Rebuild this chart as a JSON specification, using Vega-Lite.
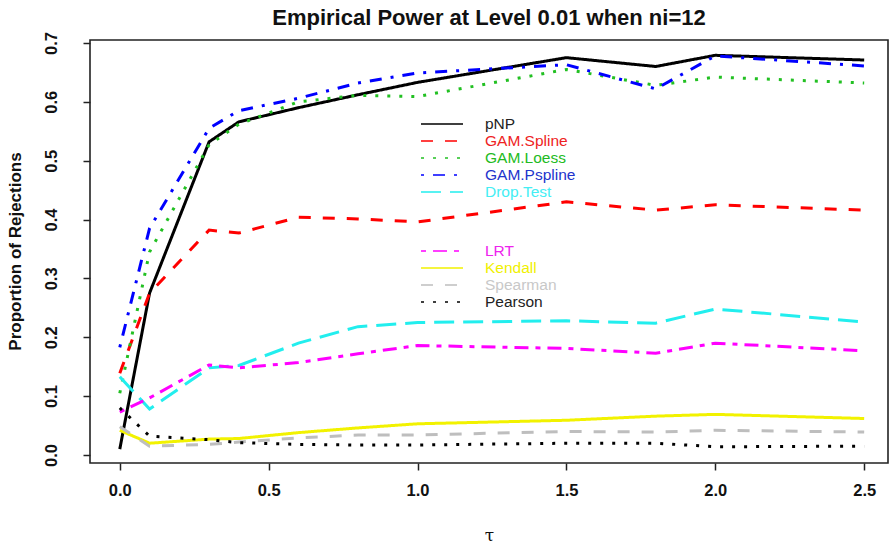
{
  "$schema": "https://vega.github.io/schema/vega-lite/v6.json",
  "autosize": {"type": "none"},
  "padding": {"left": 90, "top": 40, "right": 1, "bottom": 85},
  "width": 798,
  "height": 423,
  "background": "white",
  "title": {"text": "Empirical Power at Level 0.01 when ni=12", "font": "Liberation Sans", "fontSize": 22, "fontWeight": "bold", "color": "#111", "anchor": "middle", "offset": 1},
  "config": {
    "view": {"stroke": "#222", "strokeWidth": 1.6},
    "axis": {"domain": false, "grid": false, "ticks": true, "tickColor": "#222", "tickWidth": 1.5, "tickSize": 7, "labelFont": "Liberation Sans", "labelFontSize": 16.5, "labelFontWeight": "bold", "labelColor": "#111", "titleColor": "#111"}
  },
  "data": {"values": [
    {"t": 0, "v": 0.01, "m": "pNP"}, {"t": 0.1, "v": 0.275, "m": "pNP"}, {"t": 0.3, "v": 0.532, "m": "pNP"}, {"t": 0.4, "v": 0.566, "m": "pNP"}, {"t": 0.6, "v": 0.59, "m": "pNP"}, {"t": 0.8, "v": 0.612, "m": "pNP"}, {"t": 1.0, "v": 0.633, "m": "pNP"}, {"t": 1.5, "v": 0.675, "m": "pNP"}, {"t": 1.8, "v": 0.66, "m": "pNP"}, {"t": 2.0, "v": 0.679, "m": "pNP"}, {"t": 2.5, "v": 0.671, "m": "pNP"},
    {"t": 0, "v": 0.139, "m": "GAM.Spline"}, {"t": 0.1, "v": 0.275, "m": "GAM.Spline"}, {"t": 0.3, "v": 0.382, "m": "GAM.Spline"}, {"t": 0.4, "v": 0.377, "m": "GAM.Spline"}, {"t": 0.6, "v": 0.404, "m": "GAM.Spline"}, {"t": 0.8, "v": 0.401, "m": "GAM.Spline"}, {"t": 1.0, "v": 0.396, "m": "GAM.Spline"}, {"t": 1.5, "v": 0.43, "m": "GAM.Spline"}, {"t": 1.8, "v": 0.416, "m": "GAM.Spline"}, {"t": 2.0, "v": 0.425, "m": "GAM.Spline"}, {"t": 2.5, "v": 0.416, "m": "GAM.Spline"},
    {"t": 0, "v": 0.105, "m": "GAM.Loess"}, {"t": 0.1, "v": 0.345, "m": "GAM.Loess"}, {"t": 0.3, "v": 0.527, "m": "GAM.Loess"}, {"t": 0.4, "v": 0.562, "m": "GAM.Loess"}, {"t": 0.6, "v": 0.6, "m": "GAM.Loess"}, {"t": 0.8, "v": 0.611, "m": "GAM.Loess"}, {"t": 1.0, "v": 0.609, "m": "GAM.Loess"}, {"t": 1.5, "v": 0.655, "m": "GAM.Loess"}, {"t": 1.8, "v": 0.628, "m": "GAM.Loess"}, {"t": 2.0, "v": 0.642, "m": "GAM.Loess"}, {"t": 2.5, "v": 0.632, "m": "GAM.Loess"},
    {"t": 0, "v": 0.183, "m": "GAM.Pspline"}, {"t": 0.1, "v": 0.385, "m": "GAM.Pspline"}, {"t": 0.3, "v": 0.555, "m": "GAM.Pspline"}, {"t": 0.4, "v": 0.585, "m": "GAM.Pspline"}, {"t": 0.6, "v": 0.606, "m": "GAM.Pspline"}, {"t": 0.8, "v": 0.632, "m": "GAM.Pspline"}, {"t": 1.0, "v": 0.649, "m": "GAM.Pspline"}, {"t": 1.5, "v": 0.663, "m": "GAM.Pspline"}, {"t": 1.8, "v": 0.622, "m": "GAM.Pspline"}, {"t": 2.0, "v": 0.678, "m": "GAM.Pspline"}, {"t": 2.5, "v": 0.661, "m": "GAM.Pspline"},
    {"t": 0, "v": 0.133, "m": "Drop.Test"}, {"t": 0.1, "v": 0.078, "m": "Drop.Test"}, {"t": 0.3, "v": 0.148, "m": "Drop.Test"}, {"t": 0.4, "v": 0.152, "m": "Drop.Test"}, {"t": 0.6, "v": 0.19, "m": "Drop.Test"}, {"t": 0.8, "v": 0.218, "m": "Drop.Test"}, {"t": 1.0, "v": 0.225, "m": "Drop.Test"}, {"t": 1.5, "v": 0.228, "m": "Drop.Test"}, {"t": 1.8, "v": 0.224, "m": "Drop.Test"}, {"t": 2.0, "v": 0.248, "m": "Drop.Test"}, {"t": 2.5, "v": 0.226, "m": "Drop.Test"},
    {"t": 0, "v": 0.073, "m": "LRT"}, {"t": 0.1, "v": 0.097, "m": "LRT"}, {"t": 0.3, "v": 0.153, "m": "LRT"}, {"t": 0.4, "v": 0.148, "m": "LRT"}, {"t": 0.6, "v": 0.157, "m": "LRT"}, {"t": 0.8, "v": 0.172, "m": "LRT"}, {"t": 1.0, "v": 0.186, "m": "LRT"}, {"t": 1.5, "v": 0.181, "m": "LRT"}, {"t": 1.8, "v": 0.173, "m": "LRT"}, {"t": 2.0, "v": 0.19, "m": "LRT"}, {"t": 2.5, "v": 0.177, "m": "LRT"},
    {"t": 0, "v": 0.042, "m": "Kendall"}, {"t": 0.1, "v": 0.02, "m": "Kendall"}, {"t": 0.3, "v": 0.027, "m": "Kendall"}, {"t": 0.4, "v": 0.028, "m": "Kendall"}, {"t": 0.6, "v": 0.038, "m": "Kendall"}, {"t": 0.8, "v": 0.046, "m": "Kendall"}, {"t": 1.0, "v": 0.053, "m": "Kendall"}, {"t": 1.5, "v": 0.059, "m": "Kendall"}, {"t": 1.8, "v": 0.066, "m": "Kendall"}, {"t": 2.0, "v": 0.069, "m": "Kendall"}, {"t": 2.5, "v": 0.062, "m": "Kendall"},
    {"t": 0, "v": 0.048, "m": "Spearman"}, {"t": 0.1, "v": 0.015, "m": "Spearman"}, {"t": 0.3, "v": 0.018, "m": "Spearman"}, {"t": 0.4, "v": 0.022, "m": "Spearman"}, {"t": 0.6, "v": 0.029, "m": "Spearman"}, {"t": 0.8, "v": 0.034, "m": "Spearman"}, {"t": 1.0, "v": 0.034, "m": "Spearman"}, {"t": 1.5, "v": 0.04, "m": "Spearman"}, {"t": 1.8, "v": 0.039, "m": "Spearman"}, {"t": 2.0, "v": 0.042, "m": "Spearman"}, {"t": 2.5, "v": 0.039, "m": "Spearman"},
    {"t": 0, "v": 0.08, "m": "Pearson"}, {"t": 0.1, "v": 0.032, "m": "Pearson"}, {"t": 0.3, "v": 0.026, "m": "Pearson"}, {"t": 0.4, "v": 0.021, "m": "Pearson"}, {"t": 0.6, "v": 0.018, "m": "Pearson"}, {"t": 0.8, "v": 0.017, "m": "Pearson"}, {"t": 1.0, "v": 0.017, "m": "Pearson"}, {"t": 1.5, "v": 0.02, "m": "Pearson"}, {"t": 1.8, "v": 0.02, "m": "Pearson"}, {"t": 2.0, "v": 0.014, "m": "Pearson"}, {"t": 2.5, "v": 0.015, "m": "Pearson"}
  ]},
  "encoding": {
    "x": {"field": "t", "type": "quantitative", "scale": {"domain": [-0.1, 2.58], "nice": false, "zero": false},
      "axis": {"values": [0, 0.5, 1, 1.5, 2, 2.5], "format": ".1f", "labelPadding": 12, "title": "τ", "titleFont": "DejaVu Serif", "titleFontSize": 17, "titleFontWeight": "normal", "titleX": 399, "titleY": 72, "titleBaseline": "middle"}},
    "y": {"field": "v", "type": "quantitative", "scale": {"domain": [-0.0136, 0.705], "nice": false, "zero": false},
      "axis": {"values": [0, 0.1, 0.2, 0.3, 0.4, 0.5, 0.6, 0.7], "format": ".1f", "labelAngle": 270, "labelAlign": "center", "labelBaseline": "alphabetic", "labelPadding": 27, "title": "Proportion of Rejections", "titleFont": "Liberation Sans", "titleFontSize": 17, "titleFontWeight": "bold", "titleAngle": 270, "titleX": -75, "titleY": 211, "titleAlign": "center", "titleBaseline": "middle"}}
  },
  "layer": [
    {
      "transform": [{"filter": {"field": "m", "oneOf": ["pNP", "GAM.Spline", "GAM.Loess", "GAM.Pspline", "Drop.Test"]}}],
      "mark": {"type": "line", "strokeWidth": 3, "strokeCap": "butt"},
      "encoding": {
        "color": {"field": "m", "type": "nominal", "scale": {"domain": ["pNP", "GAM.Spline", "GAM.Loess", "GAM.Pspline", "Drop.Test"], "range": ["#000000", "#FF0000", "#22C022", "#0000FF", "#22EEEE"]},
          "legend": {"title": null, "orient": "none", "legendX": 344, "legendY": 76, "symbolType": "M-3,0H3", "symbolSize": 196, "symbolStrokeWidth": 1.6, "labelFont": "Liberation Sans", "labelFontSize": 15.5, "labelOffset": 35, "rowPadding": 0, "padding": 0,
            "encode": {"labels": {"update": {"fill": {"signal": "datum.value==='pNP'?'#222222':datum.value==='GAM.Spline'?'#EE2222':datum.value==='GAM.Loess'?'#22BB22':datum.value==='GAM.Pspline'?'#2233CC':'#44EEF4'"}}}}}},
        "strokeDash": {"field": "m", "type": "nominal", "scale": {"domain": ["pNP", "GAM.Spline", "GAM.Loess", "GAM.Pspline", "Drop.Test"], "range": [[1, 0], [12, 12], [3, 9], [3, 9, 12, 9], [20, 9]]}, "legend": null}
      }
    },
    {
      "transform": [{"filter": {"field": "m", "oneOf": ["LRT", "Kendall", "Spearman", "Pearson"]}}],
      "mark": {"type": "line", "strokeWidth": 3, "strokeCap": "butt"},
      "encoding": {
        "color": {"field": "m", "type": "nominal", "scale": {"domain": ["LRT", "Kendall", "Spearman", "Pearson"], "range": ["#FF00FF", "#F2F200", "#BEBEBE", "#000000"]},
          "legend": {"title": null, "orient": "none", "legendX": 344, "legendY": 203, "symbolType": "M-3,0H3", "symbolSize": 196, "symbolStrokeWidth": 1.6, "labelFont": "Liberation Sans", "labelFontSize": 15.5, "labelOffset": 35, "rowPadding": 0, "padding": 0,
            "encode": {"labels": {"update": {"fill": {"signal": "datum.value==='LRT'?'#EE22EE':datum.value==='Kendall'?'#F0F000':datum.value==='Spearman'?'#C8C8C8':'#222222'"}}}}}},
        "strokeDash": {"field": "m", "type": "nominal", "scale": {"domain": ["LRT", "Kendall", "Spearman", "Pearson"], "range": [[5, 7, 14, 7], [1, 0], [12, 12], [3, 9]]}, "legend": null}
      }
    }
  ],
  "resolve": {"scale": {"color": "independent", "strokeDash": "independent"}, "legend": {"color": "independent", "strokeDash": "independent"}}
}
